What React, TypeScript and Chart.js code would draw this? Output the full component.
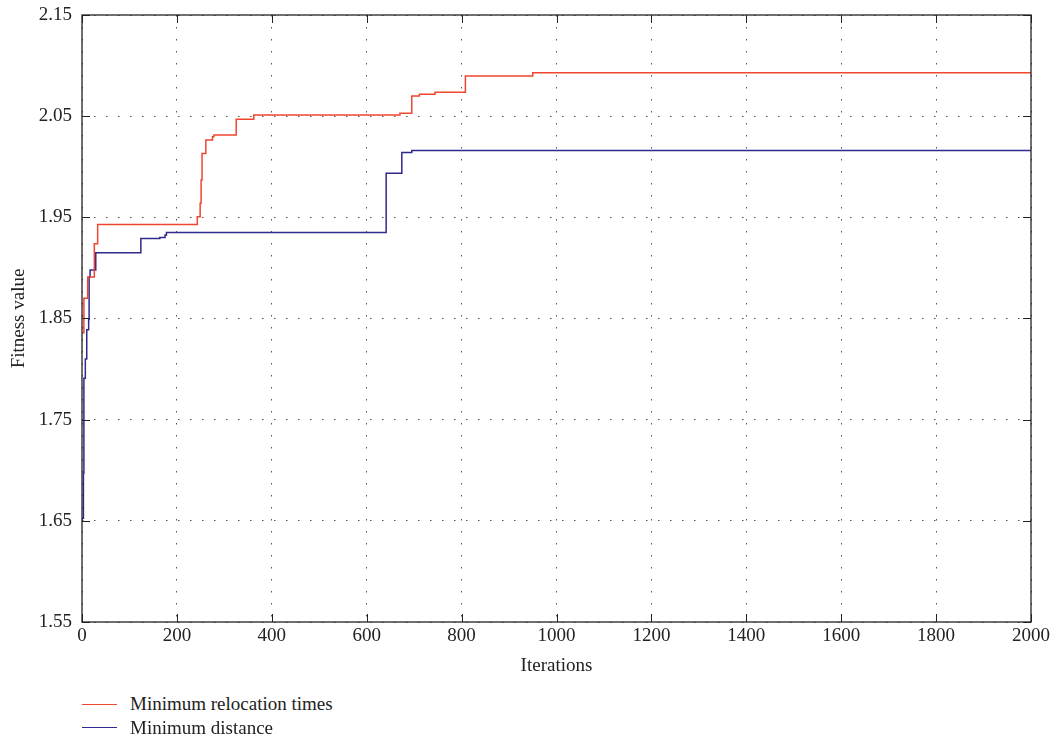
import React, { useEffect, useRef } from "react";
import { Chart, registerables } from "chart.js";

Chart.register(...registerables);

const redIter = [0, 4, 12, 26, 33, 243, 249, 251, 253, 261, 275, 278, 325, 362, 670, 695, 711, 744, 808, 950, 2000];
const redVal = [1.836, 1.870, 1.891, 1.924, 1.943, 1.9506, 1.964, 1.987, 2.013, 2.0265, 2.0297, 2.0314, 2.047, 2.0512, 2.0528, 2.070, 2.0716, 2.0736, 2.0897, 2.093, 2.093];

const blueIter = [0, 3, 4, 7, 10, 14, 15, 17, 29, 124, 164, 175, 178, 641, 674, 695, 2000];
const blueVal = [1.6525, 1.697, 1.791, 1.810, 1.839, 1.849, 1.891, 1.898, 1.915, 1.929, 1.930, 1.9325, 1.935, 1.9935, 2.014, 2.016, 2.016];

const yTicks = [1.55, 1.65, 1.75, 1.85, 1.95, 2.05, 2.15];
const xTicks = [0, 200, 400, 600, 800, 1000, 1200, 1400, 1600, 1800, 2000];

const seriesNames = ["Minimum relocation times", "Minimum distance"];
const RED = "#ef4630";
const BLUE = "#2f2a8c";
const FONT = "'Liberation Serif', 'DejaVu Serif', serif";

const frame = {
  id: "frame",
  afterDraw(chart: any) {
    const { ctx, chartArea: a, scales } = chart;
    ctx.save();
    ctx.strokeStyle = "#222";
    ctx.lineWidth = 1;
    const tl = 8;
    ctx.beginPath();
    scales.x.ticks.forEach((t: any) => {
      const px = Math.round(scales.x.getPixelForValue(t.value)) + 0.5;
      ctx.moveTo(px, a.bottom);
      ctx.lineTo(px, a.bottom - tl);
      ctx.moveTo(px, a.top);
      ctx.lineTo(px, a.top + tl);
    });
    scales.y.ticks.forEach((t: any) => {
      const py = Math.round(scales.y.getPixelForValue(t.value)) + 0.5;
      ctx.moveTo(a.left, py);
      ctx.lineTo(a.left + tl, py);
      ctx.moveTo(a.right, py);
      ctx.lineTo(a.right - tl, py);
    });
    ctx.stroke();
    ctx.lineWidth = 1.3;
    ctx.strokeRect(a.left, a.top, a.right - a.left, a.bottom - a.top);
    ctx.restore();
  },
};

export default function App() {
  const ref = useRef<HTMLCanvasElement | null>(null);

  useEffect(() => {
    if (!ref.current) return;
    const chart = new Chart(ref.current, {
      type: "line",
      data: {
        datasets: [
          {
            label: seriesNames[0],
            data: redIter.map((x, i) => ({ x, y: redVal[i] })),
            borderColor: RED,
            borderWidth: 1.5,
            pointRadius: 0,
            stepped: "before",
            fill: false,
          },
          {
            label: seriesNames[1],
            data: blueIter.map((x, i) => ({ x, y: blueVal[i] })),
            borderColor: BLUE,
            borderWidth: 1.5,
            pointRadius: 0,
            stepped: "before",
            fill: false,
          },
        ],
      },
      options: {
        animation: false,
        responsive: false,
        layout: { padding: { top: 15, right: 26, left: 0, bottom: 0 } },
        plugins: { legend: { display: false }, tooltip: { enabled: false } },
        scales: {
          x: {
            type: "linear",
            min: 0,
            max: 2000,
            afterBuildTicks: (s: any) => {
              s.ticks = xTicks.map((v) => ({ value: v }));
            },
            afterFit: (s: any) => {
              s.height = 63;
              s.paddingLeft = 0;
              s.paddingRight = 0;
            },
            ticks: {
              padding: 3,
              color: "#222",
              font: { family: FONT, size: 19 },
              maxRotation: 0,
              callback: (v: any) => String(v),
            },
            grid: { color: "#555", lineWidth: 1, drawTicks: false },
            border: { display: false, dash: [1.5, 10.5] },
            title: {
              display: true,
              text: "Iterations",
              color: "#222",
              font: { family: FONT, size: 19 },
              padding: { top: 0, bottom: 8 },
            },
          },
          y: {
            type: "linear",
            min: 1.55,
            max: 2.15,
            afterBuildTicks: (s: any) => {
              s.ticks = yTicks.map((v) => ({ value: v }));
            },
            afterFit: (s: any) => {
              s.width = 82;
              s.paddingTop = 0;
              s.paddingBottom = 0;
            },
            ticks: {
              padding: 10,
              color: "#222",
              font: { family: FONT, size: 19 },
              callback: (v: any) => Number(v).toFixed(2),
            },
            grid: { color: "#555", lineWidth: 1, drawTicks: false },
            border: { display: false, dash: [1.5, 10.5] },
            title: {
              display: true,
              text: "Fitness value",
              color: "#222",
              font: { family: FONT, size: 19 },
              padding: { top: 8, bottom: 0 },
            },
          },
        },
      },
      plugins: [frame],
    });
    return () => chart.destroy();
  }, []);

  const legendColors = [RED, BLUE];
  return (
    <div style={{ position: "fixed", left: 0, top: 0, width: 1057, height: 739, background: "#fff" }}>
      <canvas ref={ref} width={1057} height={685} style={{ display: "block" }} />
      {seriesNames.map((name, i) => (
        <div
          key={name}
          style={{
            position: "absolute",
            left: 82,
            top: 692 + i * 23.5,
            height: 24,
            display: "flex",
            alignItems: "center",
            fontFamily: FONT,
            fontSize: 19,
            color: "#222",
            whiteSpace: "nowrap",
          }}
        >
          <span style={{ display: "inline-block", width: 35, height: 0, borderTop: `1.5px solid ${legendColors[i]}`, marginRight: 13 }} />
          <span>{name}</span>
        </div>
      ))}
    </div>
  );
}
